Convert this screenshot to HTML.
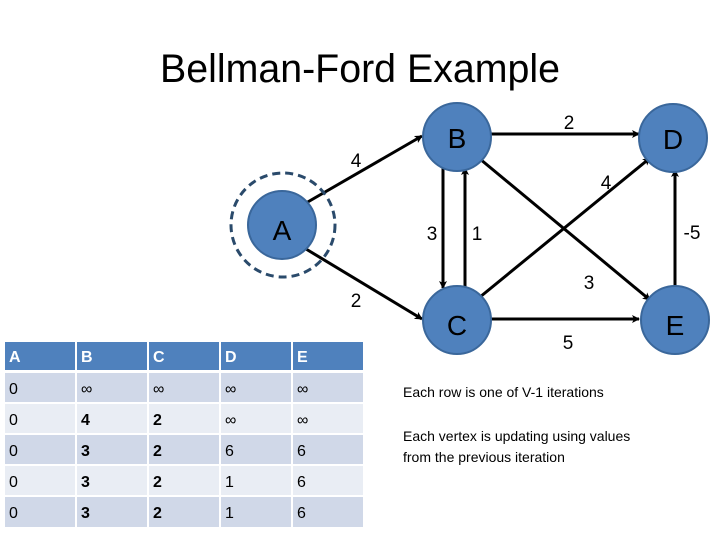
<!DOCTYPE html>
<html><head><meta charset="utf-8"><style>
html,body{margin:0;padding:0;background:#fff;width:720px;height:540px;overflow:hidden;font-family:"Liberation Sans",sans-serif}
svg{position:absolute;left:0;top:0}
</style></head><body>
<svg width="720" height="540" viewBox="0 0 720 540" xmlns="http://www.w3.org/2000/svg">
<defs><marker id="ar" markerWidth="8" markerHeight="8" refX="7" refY="4" orient="auto" markerUnits="userSpaceOnUse"><path d="M0,0 L8,4 L0,8 L2,4 z" fill="#000"/></marker></defs>
<text x="160" y="82" font-size="40" textLength="400" lengthAdjust="spacingAndGlyphs" fill="#000">Bellman-Ford Example</text>
<g stroke="#000" stroke-width="3" fill="none" marker-end="url(#ar)">
<line x1="306" y1="203" x2="422" y2="136"/>
<line x1="306" y1="249" x2="422" y2="319"/>
<line x1="491" y1="134" x2="639" y2="134"/>
<line x1="443" y1="168" x2="443" y2="288"/>
<line x1="465" y1="290" x2="465" y2="168"/>
<line x1="480" y1="297" x2="650" y2="158"/>
<line x1="480" y1="159" x2="650" y2="300"/>
<line x1="675" y1="290" x2="675" y2="170"/>
<line x1="490" y1="319" x2="639" y2="319"/>
</g>
<circle cx="283" cy="225" r="52" fill="none" stroke="#2a4a6b" stroke-width="3" stroke-dasharray="8,5"/>
<g fill="#4f81bd" stroke="#3a679b" stroke-width="2">
<circle cx="282" cy="225" r="34"/>
<circle cx="457" cy="137" r="34"/>
<circle cx="673" cy="138" r="34"/>
<circle cx="457" cy="320" r="34"/>
<circle cx="675" cy="320" r="34"/>
</g>
<g font-size="28" fill="#000" text-anchor="middle">
<text x="282" y="240">A</text><text x="457" y="148">B</text><text x="673" y="149">D</text><text x="457" y="335">C</text><text x="675" y="335">E</text>
</g>
<g font-size="19" fill="#000" text-anchor="middle">
<text x="356" y="167">4</text><text x="569" y="129">2</text><text x="606" y="189">4</text>
<text x="432" y="240">3</text><text x="477" y="240">1</text><text x="692" y="239">-5</text>
<text x="356" y="307">2</text><text x="589" y="289">3</text><text x="568" y="349">5</text>
</g>
<g font-size="14" fill="#000">
<text x="403" y="397">Each row is one of V-1 iterations</text>
<text x="403" y="441">Each vertex is updating using values</text>
<text x="403" y="462">from the previous iteration</text>
</g>
<g>
<rect x="5" y="342" width="70" height="28" fill="#4f81bd"/><rect x="77" y="342" width="70" height="28" fill="#4f81bd"/><rect x="149" y="342" width="70" height="28" fill="#4f81bd"/><rect x="221" y="342" width="70" height="28" fill="#4f81bd"/><rect x="293" y="342" width="70" height="28" fill="#4f81bd"/>
</g>
<g font-size="16" font-weight="bold" fill="#fff">
<text x="9" y="362">A</text><text x="81" y="362">B</text><text x="153" y="362">C</text><text x="225" y="362">D</text><text x="297" y="362">E</text>
</g>
<g fill="#d0d8e8">
<rect x="5" y="373" width="70" height="29"/><rect x="77" y="373" width="70" height="29"/><rect x="149" y="373" width="70" height="29"/><rect x="221" y="373" width="70" height="29"/><rect x="293" y="373" width="70" height="29"/>
<rect x="5" y="435" width="70" height="29"/><rect x="77" y="435" width="70" height="29"/><rect x="149" y="435" width="70" height="29"/><rect x="221" y="435" width="70" height="29"/><rect x="293" y="435" width="70" height="29"/>
<rect x="5" y="497" width="70" height="30"/><rect x="77" y="497" width="70" height="30"/><rect x="149" y="497" width="70" height="30"/><rect x="221" y="497" width="70" height="30"/><rect x="293" y="497" width="70" height="30"/>
</g>
<g fill="#e9edf4">
<rect x="5" y="404" width="70" height="29"/><rect x="77" y="404" width="70" height="29"/><rect x="149" y="404" width="70" height="29"/><rect x="221" y="404" width="70" height="29"/><rect x="293" y="404" width="70" height="29"/>
<rect x="5" y="466" width="70" height="29"/><rect x="77" y="466" width="70" height="29"/><rect x="149" y="466" width="70" height="29"/><rect x="221" y="466" width="70" height="29"/><rect x="293" y="466" width="70" height="29"/>
</g>
<g font-size="16" fill="#000">
<text x="9" y="394">0</text><text x="81" y="394">∞</text><text x="153" y="394">∞</text><text x="225" y="394">∞</text><text x="297" y="394">∞</text>
<text x="9" y="425">0</text><text x="81" y="425" font-weight="bold">4</text><text x="153" y="425" font-weight="bold">2</text><text x="225" y="425">∞</text><text x="297" y="425">∞</text>
<text x="9" y="456">0</text><text x="81" y="456" font-weight="bold">3</text><text x="153" y="456" font-weight="bold">2</text><text x="225" y="456">6</text><text x="297" y="456">6</text>
<text x="9" y="487">0</text><text x="81" y="487" font-weight="bold">3</text><text x="153" y="487" font-weight="bold">2</text><text x="225" y="487">1</text><text x="297" y="487">6</text>
<text x="9" y="518">0</text><text x="81" y="518" font-weight="bold">3</text><text x="153" y="518" font-weight="bold">2</text><text x="225" y="518">1</text><text x="297" y="518">6</text>
</g>
</svg>
</body></html>
